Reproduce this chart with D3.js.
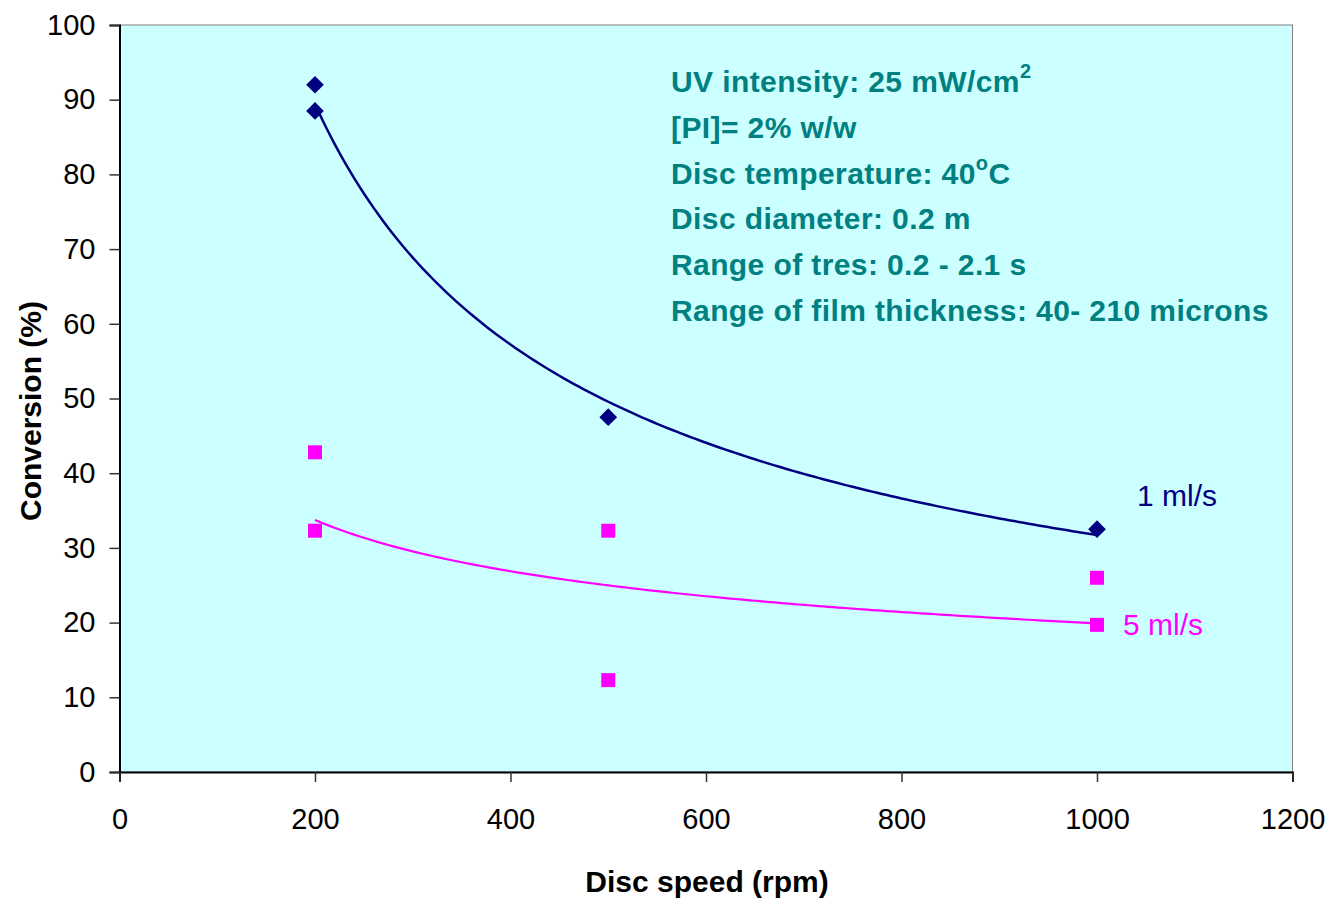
<!DOCTYPE html>
<html>
<head>
<meta charset="utf-8">
<script src="https://cdn.jsdelivr.net/npm/d3@7"></script>
<style>
  body { margin: 0; background: #fff; }
  svg text { font-family: "Liberation Sans", Arial, sans-serif; }
</style>
</head>
<body>
<svg id="chart" width="1330" height="899"></svg>
<script>
// data
const speed1 = [200, 200, 500, 1000];
const conv1 = [92.0, 88.5, 47.5, 32.5];
const speed5 = [200, 200, 500, 500, 1000, 1000];
const conv5 = [42.8, 32.3, 32.3, 12.3, 26.0, 19.7];
const xTicks = [0, 200, 400, 600, 800, 1000, 1200];
const yTicks = [0, 10, 20, 30, 40, 50, 60, 70, 80, 90, 100];
const notes = [
  ["UV intensity: 25 mW/cm", "2"],
  ["[PI]= 2% w/w", null],
  ["Disc temperature: 40", "o", "C"],
  ["Disc diameter: 0.2 m", null],
  ["Range of tres: 0.2 - 2.1 s", null],
  ["Range of film thickness: 40- 210 microns", null]
];

const svg = d3.select('#chart');
const pLeft = 119.5, pRight = 1292.5, pTop = 25, pBottom = 772;

const x = d3.scaleLinear().domain([0, 1200]).range([pLeft, pRight]);
const y = d3.scaleLinear().domain([0, 100]).range([pBottom, pTop]);

// plot area
svg.append('rect')
  .attr('x', pLeft).attr('y', pTop)
  .attr('width', pRight - pLeft).attr('height', pBottom - pTop)
  .attr('fill', '#ccffff')
  .attr('stroke', '#808080')
  .attr('stroke-width', 1);

// axes
const yAxis = svg.append('g')
  .attr('transform', `translate(${pLeft},0)`)
  .call(d3.axisLeft(y).tickValues(yTicks).tickFormat(d3.format('d')).tickSize(10).tickPadding(14));
const xAxis = svg.append('g')
  .attr('transform', `translate(0,${pBottom})`)
  .call(d3.axisBottom(x).tickValues(xTicks).tickFormat(d3.format('d')).tickSize(10).tickPadding(26));

[xAxis, yAxis].forEach(g => {
  g.select('.domain').attr('stroke', '#000').attr('stroke-width', 2);
  g.selectAll('.tick line').attr('stroke', '#333').attr('stroke-width', 1.5);
  g.selectAll('.tick text')
    .attr('font-size', '29px')
    .attr('font-family', '"Liberation Sans", Arial, sans-serif')
    .attr('fill', '#000');
});

// power-law trend lines (least squares on log-log)
function powerFit(xs, ys) {
  const lx = xs.map(Math.log), ly = ys.map(Math.log);
  const mx = d3.mean(lx), my = d3.mean(ly);
  const b = d3.sum(lx, (v, i) => (v - mx) * (ly[i] - my)) / d3.sum(lx, v => (v - mx) ** 2);
  const a = Math.exp(my - b * mx);
  return v => a * Math.pow(v, b);
}

function trend(xs, ys, color, width) {
  const f = powerFit(xs, ys);
  const pts = d3.range(200, 1000.1, 5).map(v => [v, f(v)]);
  svg.append('path')
    .datum(pts)
    .attr('fill', 'none')
    .attr('stroke', color)
    .attr('stroke-width', width)
    .attr('d', d3.line().x(d => x(d[0])).y(d => y(d[1])));
}

trend(speed5, conv5, '#ff00ff', 2.2);
trend(speed1, conv1, '#000080', 2.5);

// markers
svg.selectAll('path.diamond')
  .data(speed1.map((s, i) => [s, conv1[i]]))
  .enter().append('path')
  .attr('class', 'diamond')
  .attr('d', d3.symbol(d3.symbolDiamond2, 200))
  .attr('transform', d => `translate(${x(d[0])},${y(d[1])})`)
  .attr('fill', '#000080');

svg.selectAll('rect.sq')
  .data(speed5.map((s, i) => [s, conv5[i]]))
  .enter().append('rect')
  .attr('class', 'sq')
  .attr('x', d => x(d[0]) - 7)
  .attr('y', d => y(d[1]) - 7)
  .attr('width', 14).attr('height', 14)
  .attr('fill', '#ff00ff');

// series labels
svg.append('text')
  .attr('x', 1137).attr('y', 506)
  .attr('font-size', '30px').attr('fill', '#000080')
  .text('1 ml/s');
svg.append('text')
  .attr('x', 1123).attr('y', 635)
  .attr('font-size', '30px').attr('fill', '#ff00ff')
  .text('5 ml/s');

// annotation block
const note = svg.append('g')
  .attr('font-weight', 'bold')
  .attr('font-size', '30px')
  .attr('letter-spacing', '0.4px')
  .attr('fill', '#008080');
notes.forEach((n, i) => {
  const t = note.append('text')
    .attr('x', 671)
    .attr('y', 92 + i * 45.8);
  t.append('tspan').text(n[0]);
  if (n[1]) {
    t.append('tspan').attr('dy', -14).attr('font-size', '20px').text(n[1]);
    if (n[2]) t.append('tspan').attr('dy', 14).text(n[2]);
  }
});

// axis titles
svg.append('text')
  .attr('x', 707).attr('y', 892)
  .attr('text-anchor', 'middle')
  .attr('font-size', '30px').attr('font-weight', 'bold')
  .text('Disc speed (rpm)');
svg.append('text')
  .attr('transform', 'translate(41,411) rotate(-90)')
  .attr('text-anchor', 'middle')
  .attr('font-size', '30px').attr('font-weight', 'bold')
  .text('Conversion (%)');
</script>
</body>
</html>
